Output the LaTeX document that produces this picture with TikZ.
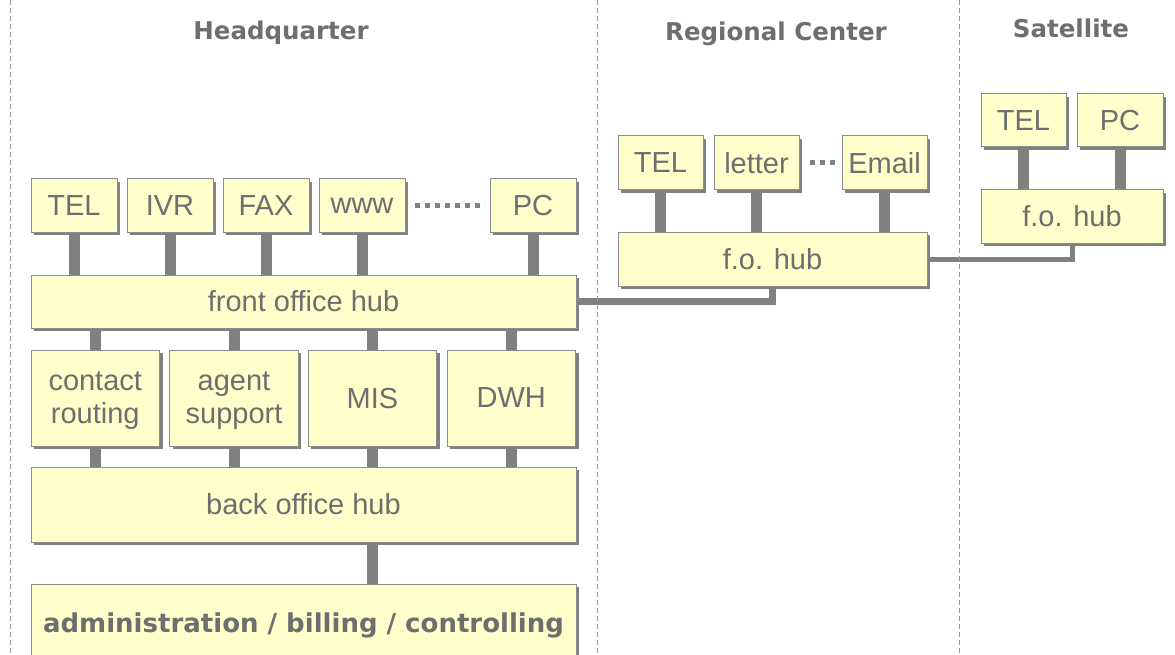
\documentclass[tikz,border=0pt]{standalone}
\usepackage{fontspec}
\setmainfont{Liberation Sans}
\newfontfamily\hfont{DejaVu Sans}
\usetikzlibrary{shadows,backgrounds}
\definecolor{boxfill}{HTML}{FFFFCC}
\definecolor{boxline}{HTML}{8C8C8C}
\definecolor{shadowgray}{HTML}{808080}
\definecolor{txtgray}{HTML}{6E6E6E}
\definecolor{linkgray}{HTML}{808080}
\definecolor{sepgray}{HTML}{9A9A9A}
\begin{document}
\begin{tikzpicture}[x=1pt,y=-1pt,
  box/.style={draw=boxline,line width=1pt,fill=boxfill,inner sep=0pt,outer sep=0pt,
    text=txtgray,font=\fontsize{29}{33}\selectfont,align=center,
    drop shadow={shadow xshift=3pt,shadow yshift=-3pt,fill=shadowgray,opacity=1}},
  chan/.style={box,minimum width=86pt,minimum height=53pt},
  midbox/.style={box,minimum width=128.5pt,minimum height=96pt,text depth=0pt},
  hub/.style={box,minimum width=545pt},
  heading/.style={text=txtgray,font=\hfont\bfseries\fontsize{24.5}{28}\selectfont,inner sep=0pt,anchor=base},
  link/.style={draw=linkgray,line width=11pt},
  dots/.style={draw=linkgray,line width=5pt,dash pattern=on 5pt off 5pt},
  sep/.style={draw=sepgray,line width=1pt,dash pattern=on 5pt off 3pt}]
\useasboundingbox (0,0) rectangle (1175,655);

% separators
\coordinate (s1t) at (10,0);   \coordinate (s1b) at (10,655);
\coordinate (s2t) at (597,0);  \coordinate (s2b) at (597,655);
\coordinate (s3t) at (959,0);  \coordinate (s3b) at (959,655);
\draw[sep] (s1t) -- (s1b);
\draw[sep] (s2t) -- (s2b);
\draw[sep] (s3t) -- (s3b);

% headings
\node[heading] (hq) at (281,40) {Headquarter};
\node[heading] (rc) at (776,41) {Regional Center};
\node[heading] (sat) at (1071,38) {Satellite};

% Headquarter
\node[chan] (tel1) at (74,205.5) {TEL};
\node[chan] (ivr) at (170,205.5) {IVR};
\node[chan] (fax) at (266,205.5) {FAX};
\node[chan] (www) at (362,205.5) {www};
\node[chan] (pc1) at (533,205.5) {PC};
\node[hub,minimum height=53pt] (fohub) at (303.5,301.5) {front office hub};
\node[midbox] (cr) at (95.25,398) {contact\\routing};
\node[midbox] (as) at (234,398) {agent\\support};
\node[midbox] (mis) at (372.5,398) {MIS};
\node[midbox] (dwh) at (511.25,398) {DWH};
\node[hub,minimum height=75pt] (bohub) at (303.5,504.5) {back office hub};
\node[hub,minimum height=82pt,font=\hfont\bfseries\fontsize{26}{30}\selectfont] (admin) at (303.5,625) {administration / billing / controlling};

% Regional Center
\node[chan,minimum width=85pt,minimum height=54pt] (tel2) at (660.5,163) {TEL};
\node[chan,minimum width=85pt,minimum height=54pt] (letter) at (756.5,163) {letter};
\node[chan,minimum width=85pt,minimum height=54pt] (email) at (884.5,163) {Email};
\node[box,minimum width=309pt,minimum height=54pt] (rhub) at (772.5,259) {f.o. hub};

% Satellite
\node[chan,minimum width=85pt] (tel3) at (1023.5,120.5) {TEL};
\node[chan] (pc3) at (1120,120.5) {PC};
\node[box,minimum width=182pt,minimum height=53pt] (shub) at (1072,216.5) {f.o. hub};

\begin{scope}[on background layer]
  \foreach \n in {tel1,ivr,fax,www,pc1}
    \draw[link] (\n.south) -- (\n.south |- fohub.north);
  \foreach \n in {cr,as,mis,dwh}
    \draw[link] (\n.north |- fohub.south) -- (\n.north);
  \foreach \n in {cr,as,mis,dwh}
    \draw[link] (\n.south) -- (\n.south |- bohub.north);
  \draw[link] (bohub.south -| mis) -- (admin.north -| mis);
  \foreach \n in {tel2,letter,email}
    \draw[link] (\n.south) -- (\n.south |- rhub.north);
  \foreach \n in {tel3,pc3}
    \draw[link] (\n.south) -- (\n.south |- shub.north);
  \draw[draw=linkgray,line width=7pt] (fohub.east) -| (rhub.south);
  \draw[draw=linkgray,line width=5pt] (rhub.east) -| (shub.south);
\end{scope}

\draw[dots] ([xshift=10pt]www.east) -- ([xshift=-5pt]pc1.west);
\draw[dots] ([xshift=11pt]letter.east) -- ([xshift=-5pt]email.west);
\end{tikzpicture}
\end{document}
